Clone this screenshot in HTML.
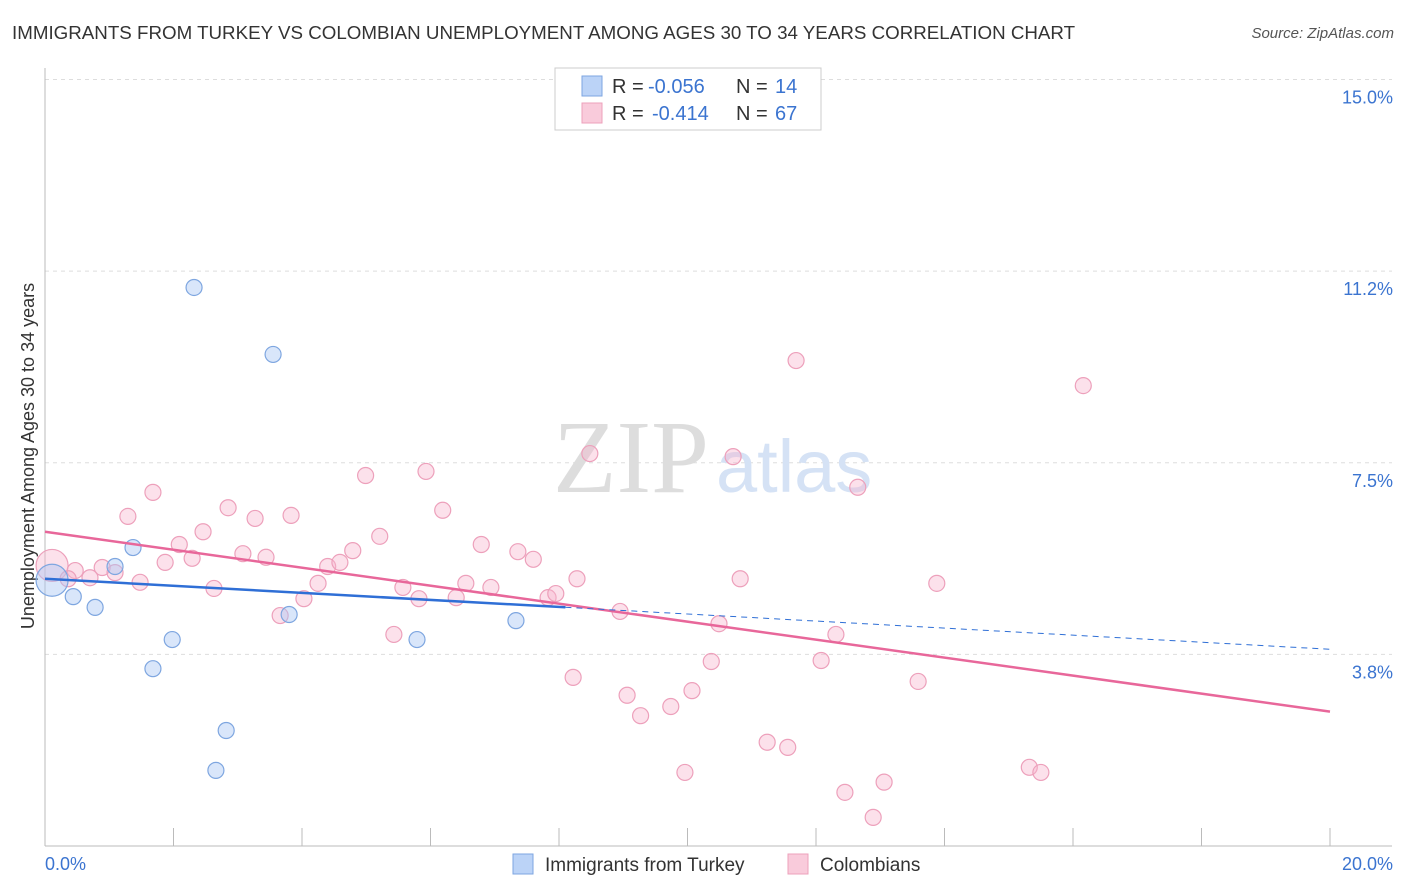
<!DOCTYPE html>
<html><head><meta charset="utf-8"><style>
body{margin:0;background:#fff;font-family:"Liberation Sans",sans-serif;}
#wrap{position:relative;width:1406px;height:892px;overflow:hidden;}
.t{position:absolute;white-space:nowrap;}
</style></head><body>
<div id="wrap">
<div class="t" style="left:12px;top:22px;font-size:18.75px;color:#333;">IMMIGRANTS FROM TURKEY VS COLOMBIAN UNEMPLOYMENT AMONG AGES 30 TO 34 YEARS CORRELATION CHART</div>
<div class="t" style="right:12px;top:25px;font-size:15px;color:#555;font-style:italic;">Source: ZipAtlas.com</div>
<svg id="chart" width="1406" height="892" style="position:absolute;left:0;top:0"></svg>
</div>
<script>
const xTicks=[0,2,4,6,8,10,12,14,16,18,20];
const yTicks=[3.75,7.5,11.25,15];
const yTickLabels=["3.8%","7.5%","11.2%","15.0%"];
const turkeyX=[0.11,0.44,0.78,1.37,1.09,1.98,1.68,2.32,2.82,2.66,3.55,3.80,5.79,7.33];
const turkeyY=[5.20,4.88,4.67,5.84,5.47,4.04,3.47,10.93,2.26,1.48,9.62,4.53,4.04,4.41];
const colX=[0.11,0.47,0.36,0.70,0.89,1.09,1.48,1.29,1.68,1.87,2.09,2.29,2.46,2.63,2.85,3.08,3.27,3.44,3.83,3.66,4.03,4.25,4.40,4.59,4.79,4.99,5.21,5.43,5.57,5.82,5.93,6.19,6.40,6.55,6.79,6.94,7.36,7.60,7.83,7.95,8.28,8.48,8.22,8.95,9.06,9.27,9.74,9.96,10.07,10.37,10.49,10.71,10.82,11.24,11.56,11.69,12.08,12.31,12.45,12.65,12.89,13.06,13.59,13.88,15.32,15.50,16.16];
const colY=[5.49,5.39,5.23,5.25,5.45,5.35,5.16,6.45,6.92,5.55,5.90,5.63,6.15,5.04,6.62,5.72,6.41,5.65,6.47,4.51,4.84,5.14,5.47,5.55,5.78,7.25,6.06,4.14,5.06,4.84,7.33,6.57,4.86,5.14,5.90,5.06,5.76,5.61,4.86,4.94,5.23,7.68,3.30,4.59,2.95,2.55,2.73,1.44,3.04,3.61,4.35,7.62,5.23,2.03,1.93,9.50,3.63,4.14,1.05,7.02,0.56,1.25,3.22,5.14,1.54,1.44,9.01];
const turkeyTrend=[5.23,3.85];
const colTrend=[6.15,2.63];
const turkeySolidEnd=8.1;
const legendR=["-0.056","-0.414"];
const legendN=["14","67"];

const X0=45,X1=1330,Y0=846,PXY=51.1;
const sx=v=>X0+(v/20)*(X1-X0);
const sy=v=>Y0-v*PXY;
const svg=document.getElementById('chart');
const NS='http://www.w3.org/2000/svg';
function mk(tag,attrs){const e=document.createElementNS(NS,tag);for(const k in attrs)e.setAttribute(k,attrs[k]);svg.appendChild(e);return e;}

yTicks.forEach((v,i)=>{
 const g=mk('line',{x1:X0,x2:1392,y1:sy(v),y2:sy(v),stroke:'#ddd','stroke-dasharray':'4,4'});
 
 
 const t=mk('text',{x:1393,y:sy(v)+24,'text-anchor':'end','font-size':18,fill:'#3b74d0','font-family':'Liberation Sans, sans-serif'});
 t.textContent=yTickLabels[i];
 
 
});
let a=mk('line',{x1:X0,x2:X0,y1:68,y2:846,stroke:'#bbb'});


a=mk('line',{x1:X0,x2:1392,y1:846,y2:846,stroke:'#bbb'});


xTicks.forEach(v=>{
 const l=mk('line',{x1:sx(v),x2:sx(v),y1:828,y2:846,stroke:'#bbb'});
 
 
});
let t=mk('text',{x:45,y:870,'font-size':18,fill:'#3b74d0','font-family':'Liberation Sans, sans-serif'});t.textContent='0.0%';


t=mk('text',{x:1393,y:870,'text-anchor':'end','font-size':18,fill:'#3b74d0','font-family':'Liberation Sans, sans-serif'});t.textContent='20.0%';


t=mk('text',{x:0,y:0,transform:'translate(34,456) rotate(-90)','text-anchor':'middle','font-size':18,fill:'#333','font-family':'Liberation Sans, sans-serif'});t.textContent='Unemployment Among Ages 30 to 34 years';


t=mk('text',{x:553,y:492,'font-size':104,fill:'#ddd','font-family':'Liberation Serif, serif'});t.textContent='ZIP';


t=mk('text',{x:716,y:492,'font-size':74,fill:'#d5e2f5','font-family':'Liberation Sans, sans-serif'});t.textContent='atlas';



colX.forEach((v,i)=>{
 const c=mk('circle',{cx:sx(v),cy:sy(colY[i]),r:i==0?16:8,fill:'rgba(248,180,205,0.4)',stroke:'#eda0bb','stroke-width':1.2});
 
 
});
turkeyX.forEach((v,i)=>{
 const c=mk('circle',{cx:sx(v),cy:sy(turkeyY[i]),r:i==0?16:8,fill:'rgba(170,200,245,0.45)',stroke:'#7ea6e0','stroke-width':1.2});
 
 
});
const ty=x=>turkeyTrend[0]+(turkeyTrend[1]-turkeyTrend[0])*x/20;
let l=mk('line',{x1:sx(0),y1:sy(colTrend[0]),x2:sx(20),y2:sy(colTrend[1]),stroke:'#e8679a','stroke-width':2.5});


l=mk('line',{x1:sx(0),y1:sy(ty(0)),x2:sx(turkeySolidEnd),y2:sy(ty(turkeySolidEnd)),stroke:'#2f6fd6','stroke-width':2.5});


l=mk('line',{x1:sx(turkeySolidEnd),y1:sy(ty(turkeySolidEnd)),x2:sx(20),y2:sy(ty(20)),stroke:'#2f6fd6','stroke-width':1,'stroke-dasharray':'6,5'});



let r=mk('rect',{x:555,y:68,width:266,height:62,fill:'#fff',stroke:'#ccc'});


[[86,'rgba(170,200,245,0.8)','#7ea6e0',648],[113,'rgba(248,190,210,0.8)','#eda0bb',652]].forEach((d,i)=>{
 const s=mk('rect',{x:582,y:d[0]-10,width:20,height:20,fill:d[1],stroke:d[2]});
 
 
 const parts=[[612,'R = ','#333'],[d[3],legendR[i],'#3b74d0'],[736,'N = ','#333'],[775,legendN[i],'#3b74d0']];
 parts.forEach(p=>{
  const tx=mk('text',{x:p[0],y:d[0]+7,'font-size':20,fill:p[2],'font-family':'Liberation Sans, sans-serif'});
  tx.textContent=p[1];
  
  
 });
});
[[513,'rgba(170,200,245,0.8)','#7ea6e0','Immigrants from Turkey'],[788,'rgba(248,190,210,0.8)','#eda0bb','Colombians']].forEach(d=>{
 const s=mk('rect',{x:d[0],y:854,width:20,height:20,fill:d[1],stroke:d[2]});
 
 
 const tx=mk('text',{x:d[0]+32,y:871,'font-size':19,fill:'#333','font-family':'Liberation Sans, sans-serif'});
 tx.textContent=d[3];
 
 
});
</script>
</body></html>
